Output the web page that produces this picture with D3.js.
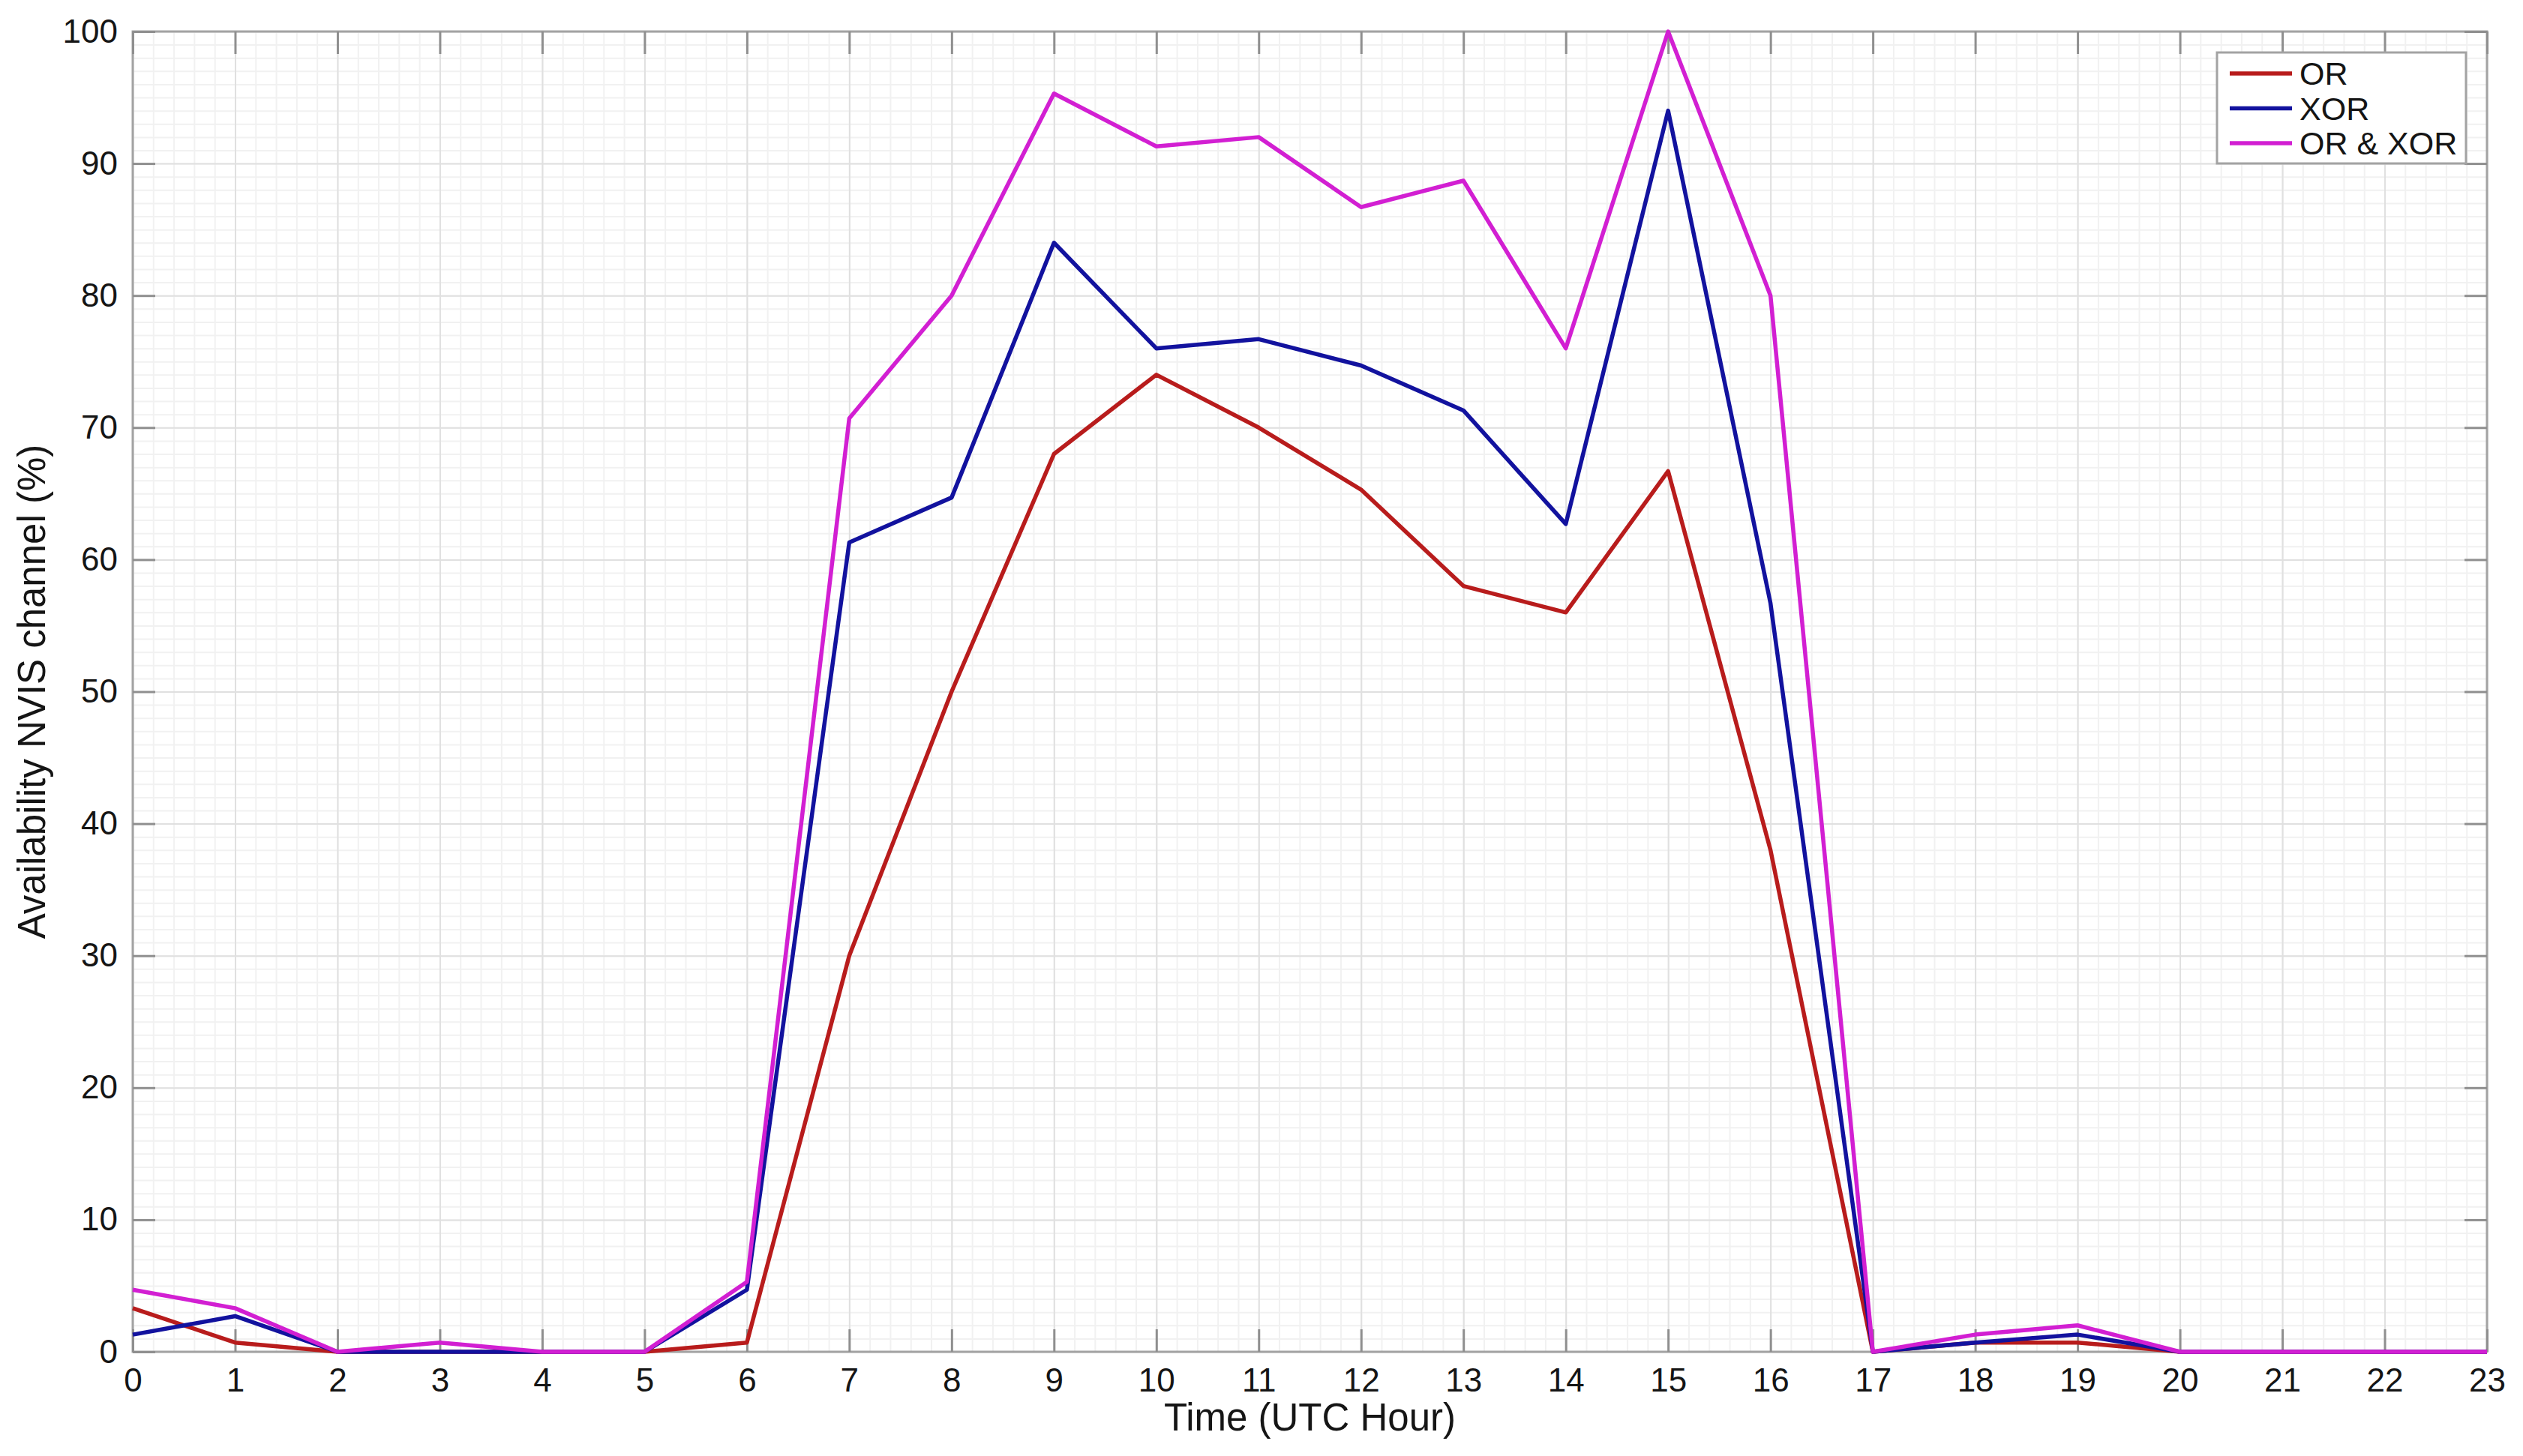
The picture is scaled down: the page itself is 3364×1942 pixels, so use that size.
<!DOCTYPE html>
<html>
<head>
<meta charset="utf-8">
<title>Availability NVIS channel</title>
<script src="https://d3js.org/d3.v7.min.js"></script>
<style>
body {margin:0; background:#fff;}
svg {display:block; font-family:"Liberation Sans", Arial, Helvetica, sans-serif;}
.minor line {stroke:#f1f1f1; stroke-width:2;}
.major line {stroke:#e0e0e0; stroke-width:2;}
.grid path {display:none;}
.ax path {display:none;}
.ax line {stroke:#8f8f8f; stroke-width:3;}
.ax text {font-size:44px; fill:#151515;}
.line {fill:none; stroke-width:5.5; stroke-linejoin:round;}
.label {font-size:51px; fill:#151515;}
.legend text {font-size:43px; fill:#151515;}
</style>
</head>
<body>
<svg width="3364" height="1942"></svg>
<script>
// UTC hours and availability (%) per hour
var hours = [0,1,2,3,4,5,6,7,8,9,10,11,12,13,14,15,16,17,18,19,20,21,22,23];
var orVals   = [3.3,0.7,0,0,0,0,0.7,30,50,68,74,70,65.3,58,56,66.7,38,0,0.7,0.7,0,0,0,0];
var xorVals  = [1.3,2.7,0,0,0,0,4.7,61.3,64.7,84,76,76.7,74.7,71.3,62.7,94,56.7,0,0.7,1.3,0,0,0,0];
var bothVals = [4.7,3.3,0,0.7,0,0,5.3,70.7,80,95.3,91.3,92,86.7,88.7,76,100,80,0,1.3,2,0,0,0,0];
var seriesNames = ["OR","XOR","OR & XOR"];
var seriesColors = ["#b81c1c","#12129e","#d21fd2"];
var yTicks = [0,10,20,30,40,50,60,70,80,90,100];

var svg = d3.select("svg"),
margin = {top: 42, right: 48, bottom: 139, left: 177},
width = +svg.attr("width") - margin.left - margin.right,
height = +svg.attr("height") - margin.top - margin.bottom;

var x = d3.scaleLinear().domain([0, 23]).range([0, width]);
var y = d3.scaleLinear().domain([0, 100]).range([height, 0]);

var g = svg.append("g")
.attr("transform", "translate(" + margin.left + "," + margin.top + ")");

// minor grid
g.append("g")
.attr("class", "grid minor")
.attr("transform", "translate(0," + height + ")")
.call(d3.axisBottom(x).tickValues(d3.range(0, 23.001, 0.2)).tickSize(-height).tickFormat(""));
g.append("g")
.attr("class", "grid minor")
.call(d3.axisLeft(y).tickValues(d3.range(0, 100.001, 1)).tickSize(-width).tickFormat(""));

// major grid
g.append("g")
.attr("class", "grid major")
.attr("transform", "translate(0," + height + ")")
.call(d3.axisBottom(x).tickValues(hours).tickSize(-height).tickFormat(""));
g.append("g")
.attr("class", "grid major")
.call(d3.axisLeft(y).tickValues(yTicks).tickSize(-width).tickFormat(""));

// box
g.append("rect")
.attr("width", width)
.attr("height", height)
.attr("fill", "none")
.attr("stroke", "#a3a3a3")
.attr("stroke-width", 3);

// axes with inward ticks
g.append("g")
.attr("class", "ax")
.attr("transform", "translate(0," + height + ")")
.call(d3.axisBottom(x).tickValues(hours).tickSize(-30).tickPadding(22).tickFormat(d3.format("d")));
g.append("g")
.attr("class", "ax")
.call(d3.axisTop(x).tickValues(hours).tickSize(-30).tickFormat(""));
g.append("g")
.attr("class", "ax")
.call(d3.axisLeft(y).tickValues(yTicks).tickSize(-30).tickPadding(20));
g.append("g")
.attr("class", "ax")
.attr("transform", "translate(" + width + ",0)")
.call(d3.axisRight(y).tickValues(yTicks).tickSize(-30).tickFormat(""));

// series
var allSeries = [orVals, xorVals, bothVals];
var line = d3.line()
.x(function(d, i) { return x(hours[i]); })
.y(function(d) { return y(d); });

allSeries.forEach(function(vals, k) {
  g.append("path")
  .datum(vals)
  .attr("class", "line")
  .attr("stroke", seriesColors[k])
  .attr("d", line);
});

// axis titles
svg.append("text")
.attr("class", "label")
.attr("x", margin.left + width / 2)
.attr("y", 1908)
.attr("text-anchor", "middle")
.text("Time (UTC Hour)");

svg.append("text")
.attr("class", "label")
.attr("transform", "rotate(-90)")
.attr("x", -(margin.top + height / 2))
.attr("y", 60)
.attr("text-anchor", "middle")
.text("Availability NVIS channel (%)");

// legend
var legend = svg.append("g")
.attr("class", "legend")
.attr("transform", "translate(2956,70)");

legend.append("rect")
.attr("width", 332)
.attr("height", 148)
.attr("fill", "#fff")
.attr("stroke", "#a3a3a3")
.attr("stroke-width", 3);

var rows = legend.selectAll(".row")
.data(seriesNames)
.enter().append("g")
.attr("class", "row")
.attr("transform", function(d, i) { return "translate(0," + (28 + i * 46.5) + ")"; });

rows.append("line")
.attr("x1", 17)
.attr("x2", 100)
.attr("stroke", function(d, i) { return seriesColors[i]; })
.attr("stroke-width", 5.5);

rows.append("text")
.attr("x", 110)
.attr("dy", "0.36em")
.text(function(d) { return d; });
</script>
</body>
</html>
